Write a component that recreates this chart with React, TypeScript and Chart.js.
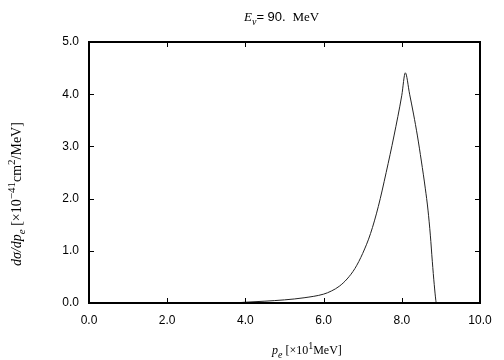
import React, { useEffect, useRef } from "react";
import { Chart, registerables } from "chart.js";

Chart.register(...registerables);

const xValues = [3.7, 4.0, 4.5, 5.0, 5.5, 6.0, 6.2, 6.4, 6.6, 6.8, 7.0, 7.2, 7.4, 7.6, 7.8, 8.0, 8.09, 8.2, 8.3, 8.4, 8.5, 8.6, 8.67, 8.73, 8.78, 8.83, 8.87, 8.88];
const yValues = [0.0, 0.015, 0.035, 0.06, 0.1, 0.17, 0.23, 0.32, 0.46, 0.66, 0.95, 1.33, 1.85, 2.5, 3.2, 3.98, 4.41, 4.0, 3.62, 3.2, 2.72, 2.2, 1.78, 1.3, 0.8, 0.35, 0.05, 0.0];
const xTicks = [0, 2, 4, 6, 8, 10];
const yTicks = [0, 1, 2, 3, 4, 5];

type Seg = { t: string; it?: boolean; serif?: boolean; sub?: boolean; sup?: boolean };

const titleSegs: Seg[] = [
  { t: "E", it: true, serif: true },
  { t: "ν", it: true, serif: true, sub: true },
  { t: "= 90. " },
  { t: " MeV", serif: true },
];
const xLabelSegs: Seg[] = [
  { t: "p", it: true, serif: true },
  { t: "e", it: true, serif: true, sub: true },
  { t: " [×10", serif: true },
  { t: "1", serif: true, sup: true },
  { t: "MeV]", serif: true },
];
const yLabelSegs: Seg[] = [
  { t: "dσ/dp", it: true, serif: true },
  { t: "e", it: true, serif: true, sub: true },
  { t: " [×10", serif: true },
  { t: "−41", serif: true, sup: true },
  { t: "cm", serif: true },
  { t: "2", serif: true, sup: true },
  { t: "/MeV]", serif: true },
];

function fontFor(s: Seg, size: number) {
  const sz = s.sub || s.sup ? Math.round(size * 0.8) : size;
  const fam = s.serif ? "'Liberation Serif', 'Times New Roman', serif" : "'Liberation Sans', Arial, sans-serif";
  return `${s.it ? "italic " : ""}${sz}px ${fam}`;
}

function drawRich(ctx: CanvasRenderingContext2D, segs: Seg[], x: number, y: number, size: number, rot = 0) {
  ctx.save();
  ctx.translate(x, y);
  ctx.rotate(rot);
  ctx.textBaseline = "alphabetic";
  ctx.textAlign = "left";
  ctx.fillStyle = "#000";
  let cx = 0;
  for (const s of segs) {
    ctx.font = fontFor(s, size);
    const dy = s.sub ? size * 0.3 : s.sup ? -size * 0.45 : 0;
    ctx.fillText(s.t, cx, dy);
    cx += ctx.measureText(s.t).width;
  }
  ctx.restore();
}

const framePlugin = {
  id: "frame",
  afterDraw(chart: any) {
    const { ctx, chartArea: a, scales } = chart;
    const xs = scales.x;
    const ys = scales.y;
    ctx.save();
    ctx.strokeStyle = "#000";
    ctx.lineWidth = 1;
    const tl = 5;
    for (const v of xTicks) {
      if (v === 0 || v === 10) continue;
      const px = Math.round(xs.getPixelForValue(v)) + 0.5;
      ctx.beginPath();
      ctx.moveTo(px, a.bottom);
      ctx.lineTo(px, a.bottom - tl);
      ctx.moveTo(px, a.top);
      ctx.lineTo(px, a.top + tl);
      ctx.stroke();
    }
    for (const v of yTicks) {
      if (v === 0 || v === 5) continue;
      const py = Math.round(ys.getPixelForValue(v)) + 0.5;
      ctx.beginPath();
      ctx.moveTo(a.left, py);
      ctx.lineTo(a.left + tl, py);
      ctx.moveTo(a.right, py);
      ctx.lineTo(a.right - tl, py);
      ctx.stroke();
    }
    ctx.lineWidth = 2;
    ctx.strokeRect(a.left, a.top, a.right - a.left, a.bottom - a.top);
    ctx.restore();

    drawRich(ctx, titleSegs, 244, 21, 13);
    drawRich(ctx, xLabelSegs, 272, 354, 12);
    drawRich(ctx, yLabelSegs, 21, 266, 14, -Math.PI / 2);
  },
};

export default function App() {
  const ref = useRef<HTMLCanvasElement>(null);
  useEffect(() => {
    if (!ref.current) return;
    const chart = new Chart(ref.current, {
      type: "line",
      data: {
        datasets: [
          {
            data: xValues.map((x, i) => ({ x, y: yValues[i] })),
            borderColor: "#222",
            borderWidth: 1,
            pointRadius: 0,
            fill: false,
            cubicInterpolationMode: "monotone",
          },
        ],
      },
      options: {
        animation: false,
        responsive: false,
        layout: { padding: { left: 0, top: 42, right: 24, bottom: 0 } },
        plugins: { legend: { display: false }, tooltip: { enabled: false } },
        scales: {
          x: {
            type: "linear",
            min: 0,
            max: 10,
            afterBuildTicks: (s: any) => {
              s.ticks = xTicks.map((v) => ({ value: v }));
            },
            afterFit: (s: any) => {
              s.height = 57;
            },
            grid: { display: false, drawTicks: false },
            border: { display: false },
            ticks: {
              padding: 10,
              color: "#000",
              font: { family: "'Liberation Sans', Arial, sans-serif", size: 12 },
              callback: (v: any) => Number(v).toFixed(1),
              maxRotation: 0,
              autoSkip: false,
            },
          },
          y: {
            type: "linear",
            min: 0,
            max: 5,
            afterBuildTicks: (s: any) => {
              s.ticks = yTicks.map((v) => ({ value: v }));
            },
            afterFit: (s: any) => {
              s.width = 89;
            },
            grid: { display: false, drawTicks: false },
            border: { display: false },
            ticks: {
              padding: 10,
              color: "#000",
              font: { family: "'Liberation Sans', Arial, sans-serif", size: 12 },
              callback: (v: any) => Number(v).toFixed(1),
              autoSkip: false,
            },
          },
        },
      },
      plugins: [framePlugin],
    } as any);
    return () => chart.destroy();
  }, []);
  return (
    <div style={{ position: "fixed", left: 0, top: 0, width: 504, height: 360, background: "#fff" }}>
      <canvas ref={ref} width={504} height={360} style={{ width: 504, height: 360 }} />
    </div>
  );
}
